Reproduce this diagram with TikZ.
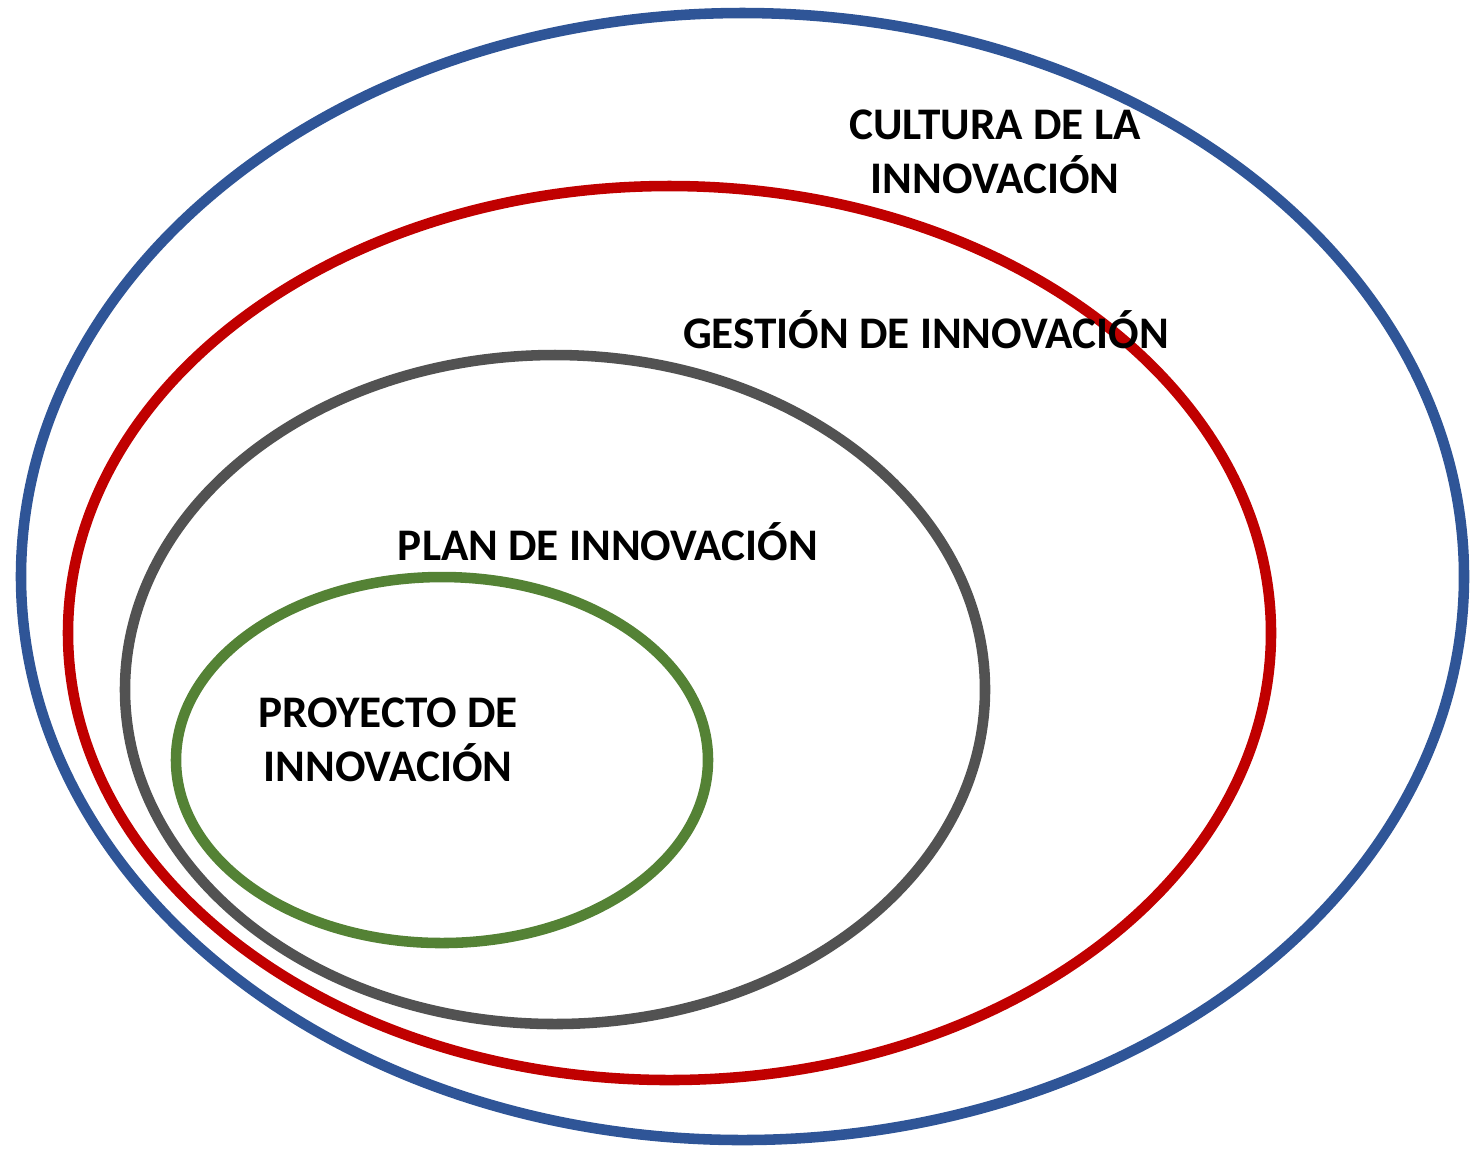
\documentclass[tikz,border=0pt]{standalone}
\usepackage{fontspec}
\setmainfont{Carlito}
\usepackage{tikz}

\definecolor{ringblue}{HTML}{2F5597}
\definecolor{ringred}{HTML}{C00000}
\definecolor{ringgray}{HTML}{525252}
\definecolor{ringgreen}{HTML}{548235}

\begin{document}
\begin{tikzpicture}[x=0.01cm,y=-0.01cm]
\tikzstyle{ring}=[line width=3pt];
\tikzstyle{every node}=[font=\fontsize{12.85}{15.1}\selectfont\bfseries,align=center,inner sep=0pt];
\useasboundingbox (0,0) rectangle (1473,1153);
\draw[ring,ringblue] (742.5,576.5) ellipse [x radius=721.5,y radius=563.5];
\draw[ring,ringred] (669.5,633) ellipse [x radius=601.5,y radius=447];
\draw[ring,ringgray] (555,689.5) ellipse [x radius=430,y radius=334.5];
\draw[ring,ringgreen] (442,760) ellipse [x radius=266,y radius=183];
\node[anchor=base] (cultura) at (995,193) {CULTURA DE LA\\INNOVACIÓN};
\node[anchor=base] (gestion) at (926,348) {GESTIÓN DE INNOVACIÓN};
\node[anchor=base] (plan) at (608,560) {PLAN DE INNOVACIÓN};
\node[anchor=base] (proyecto) at (388,781) {PROYECTO DE\\INNOVACIÓN};
\end{tikzpicture}
\end{document}
